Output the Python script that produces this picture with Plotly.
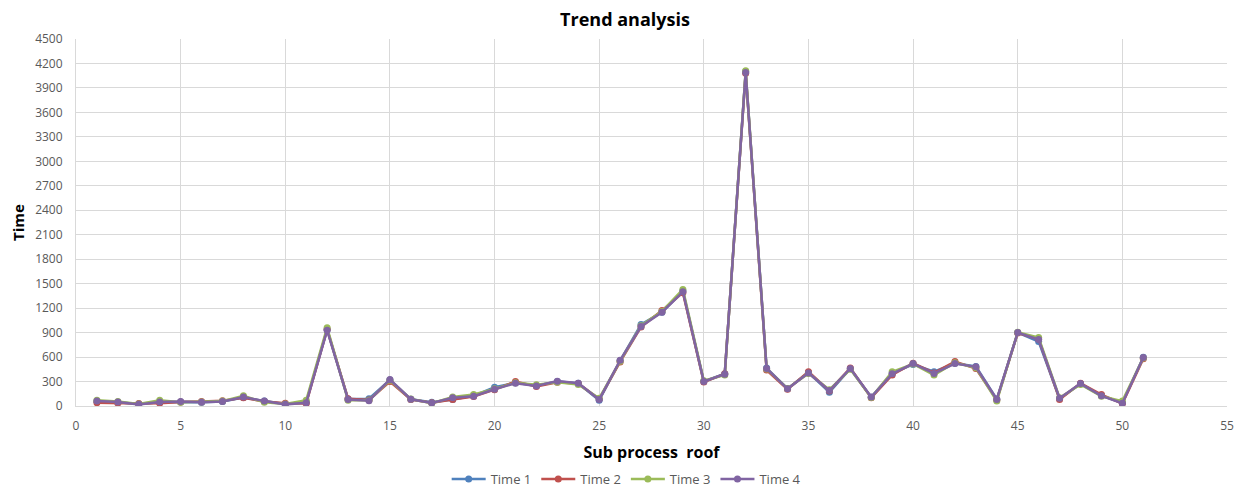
import plotly.graph_objects as go

x_vals = list(range(1, 52))

time4 = [60, 50, 20, 50, 55, 45, 55, 110, 60, 20, 40, 930, 80, 65, 325, 83, 38, 100, 120, 205,
         280, 245, 305, 280, 80, 560, 975, 1150, 1400, 300, 390, 4090, 460, 210, 405, 190, 460, 110, 395, 520,
         400, 520, 480, 80, 900, 815, 95, 275, 125, 35, 595]
time3 = [70, 55, 25, 70, 45, 50, 60, 125, 45, 25, 70, 960, 70, 70, 315, 85, 35, 110, 140, 210,
         285, 260, 290, 265, 95, 550, 985, 1160, 1430, 310, 380, 4110, 455, 215, 400, 200, 450, 105, 420, 515,
         380, 530, 470, 60, 905, 840, 100, 265, 120, 60, 590]
time2 = [40, 35, 30, 35, 50, 55, 65, 100, 55, 35, 30, 940, 90, 75, 300, 80, 40, 80, 115, 200,
         300, 240, 290, 275, 85, 540, 970, 1170, 1390, 295, 395, 4080, 440, 205, 420, 185, 465, 100, 380, 525,
         405, 545, 460, 75, 895, 820, 80, 280, 140, 30, 580]
time1 = [55, 45, 25, 45, 50, 45, 55, 105, 60, 25, 45, 935, 85, 90, 320, 82, 45, 80, 125, 230,
         285, 250, 300, 280, 70, 555, 1000, 1150, 1410, 300, 395, 4100, 465, 212, 410, 170, 458, 108, 400, 510,
         420, 525, 485, 85, 900, 790, 90, 272, 128, 38, 598]

series = [("Time 1", time1, "#4F81BD"), ("Time 2", time2, "#C0504D"),
          ("Time 3", time3, "#9BBB59"), ("Time 4", time4, "#8064A2")]

fig = go.Figure()
for name, vals, color in series:
    fig.add_trace(go.Scatter(x=x_vals, y=vals, name=name, mode="lines+markers",
                             line=dict(color=color, width=2.5),
                             marker=dict(color=color, size=7)))

font_fam = "Open Sans, Liberation Sans, sans-serif"
# The page body adds an 8px offset; the figure is sized and margined to compensate.
fig.update_layout(
    width=1234, height=479,
    margin=dict(l=68, r=15, t=31, b=81, autoexpand=False),
    paper_bgcolor="white", plot_bgcolor="white",
    font=dict(family=font_fam, size=12, color="#595959"),
    title=dict(text="<b>Trend analysis</b>", x=0.5, xanchor="center", y=0.975, yanchor="middle",
               font=dict(size=18, color="#000000", family=font_fam)),
    xaxis=dict(range=[0, 55], dtick=5, tick0=0, showgrid=True, gridcolor="#D9D9D9", gridwidth=1,
               zeroline=False, showline=True, linecolor="#D9D9D9", mirror=False, automargin=False,
               ticks="", ticklabelstandoff=9, tickfont=dict(size=12, color="#595959"),
               title=dict(text="<b>Sub process\u00a0 roof</b>", font=dict(size=16, color="#000000"), standoff=13)),
    yaxis=dict(range=[0, 4500], dtick=300, tick0=0, showgrid=True, gridcolor="#D9D9D9", gridwidth=1,
               zeroline=False, showline=True, linecolor="#D9D9D9", automargin=False,
               ticks="", ticklabelstandoff=10, tickfont=dict(size=12, color="#595959"),
               title=dict(text="<b>Time</b>", font=dict(size=15, color="#000000"), standoff=10)),
    legend=dict(orientation="h", x=0.478, xanchor="center", y=-0.199, yanchor="middle",
                font=dict(size=13, color="#595959"), itemwidth=34),
)

fig.write_html("out.html")
